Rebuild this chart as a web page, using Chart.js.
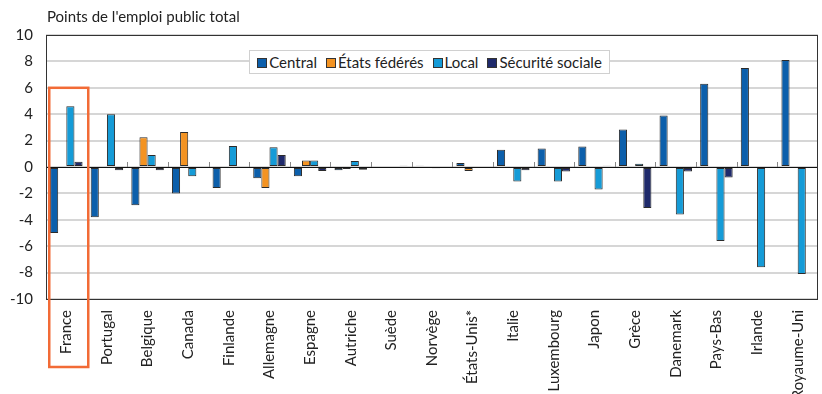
<!DOCTYPE html>
<html lang="fr">
<head>
<meta charset="utf-8">
<script src="https://cdn.jsdelivr.net/npm/chart.js@4.4.1/dist/chart.umd.min.js"></script>
<style>
  html, body { margin: 0; padding: 0; background: #fff; }
  #wrap { position: relative; width: 822px; height: 394px; font-family: Lato, "Open Sans", sans-serif; }
  #title { position: absolute; left: 47px; top: 7px; font-size: 15px; color: #222; white-space: nowrap; }
  #legend {
    position: absolute; left: 249px; top: 50px; width: 361px; height: 24px;
    background: #fff; border: 1px solid #d0d0d0; box-sizing: border-box;
    display: flex; align-items: center; justify-content: center; gap: 9px;
    font-size: 15px; color: #222; white-space: nowrap;
  }
  #legend span.sw { display: inline-block; width: 8px; height: 8px; border: 1px solid #333; margin-right: 2px; vertical-align: 0px; }
</style>
</head>
<body>
<div id="wrap">
  <canvas id="chart" width="822" height="394"></canvas>
  <div id="title">Points de l'emploi public total</div>
  <div id="legend"></div>
</div>
<script>
// DATA
const countries = ["France", "Portugal", "Belgique", "Canada", "Finlande", "Allemagne", "Espagne",
  "Autriche", "Suède", "Norvège", "États-Unis*", "Italie", "Luxembourg", "Japon", "Grèce",
  "Danemark", "Pays-Bas", "Irlande", "Royaume-Uni"];
const central  = [-5.0, -3.8, -2.9, -2.0, -1.6, -0.85, -0.7, -0.25, -0.08, 0.1, 0.3, 1.3, 1.4, 1.55, 2.85, 3.9, 6.3, 7.5, 8.1];
const federes  = [0, 0, 2.25, 2.65, 0, -1.6, 0.5, -0.15, 0, 0, -0.3, 0, 0, 0, 0, 0, 0, 0, 0];
const local    = [4.6, 4.0, 0.9, -0.7, 1.6, 1.5, 0.5, 0.45, -0.08, -0.1, 0, -1.1, -1.1, -1.7, 0.25, -3.6, -5.6, -7.6, -8.1];
const secu     = [0.4, -0.25, -0.25, 0, -0.05, 0.9, -0.3, -0.2, 0.1, 0, 0, -0.25, -0.35, 0.1, -3.1, -0.35, -0.8, 0, 0];
const seriesNames = ["Central", "États fédérés", "Local", "Sécurité sociale"];
const seriesColors = ["#0c5fab", "#f39322", "#159bd7", "#1f2a6b"];
const yTicks = [-10, -8, -6, -4, -2, 0, 2, 4, 6, 8, 10];
const highlightIndex = 0;   // France framed in orange
const highlightTop = 6;

const FONT = "Lato, 'Open Sans', sans-serif";

// Legend (html)
const legendEl = document.getElementById("legend");
seriesNames.forEach((name, i) => {
  const item = document.createElement("div");
  item.innerHTML = `<span class="sw" style="background:${seriesColors[i]}"></span>${name}`;
  legendEl.appendChild(item);
});

// Plugin: plot frame, zero line, category ticks at zero, orange highlight box
const decorations = {
  id: "decorations",
  beforeDatasetsDraw(chart) {
    const { ctx, scales: { x, y } } = chart;
    const y0 = y.getPixelForValue(0);
    ctx.save();
    // small ticks at category boundaries on the zero line
    ctx.strokeStyle = "#888";
    ctx.lineWidth = 1;
    for (let i = 1; i < countries.length; i++) {
      const px = Math.round((x.getPixelForValue(i - 1) + x.getPixelForValue(i)) / 2) + 0.5;
      ctx.beginPath();
      ctx.moveTo(px, y0 - 5);
      ctx.lineTo(px, y0);
      ctx.stroke();
    }
    ctx.restore();
  },
  afterDatasetsDraw(chart) {
    const { ctx, chartArea: a, scales: { x, y } } = chart;
    const y0 = Math.round(y.getPixelForValue(0)) + 0.5;
    ctx.save();
    ctx.strokeStyle = "#111";
    ctx.lineWidth = 1;
    ctx.beginPath();
    ctx.moveTo(a.left, y0);
    ctx.lineTo(a.right, y0);
    ctx.stroke();
    // frame
    ctx.strokeStyle = "#333";
    ctx.strokeRect(Math.round(a.left) + 0.5, Math.round(a.top) + 0.5,
      Math.round(a.right - a.left) - 1, Math.round(a.bottom - a.top));
    // highlight box
    const step = x.getPixelForValue(1) - x.getPixelForValue(0);
    const cx = x.getPixelForValue(highlightIndex);
    ctx.strokeStyle = "#f26b36";
    ctx.lineWidth = 2.5;
    ctx.strokeRect(cx - step * 0.42, y.getPixelForValue(highlightTop), step * 0.96, 367 - y.getPixelForValue(highlightTop));
    ctx.restore();
  }
};

const datasets = [central, federes, local, secu].map((data, i) => ({
  label: seriesNames[i],
  data: data,
  backgroundColor: seriesColors[i],
  borderColor: "#2b2b2b",
  borderWidth: 1,
  borderSkipped: false,
  categoryPercentage: 0.8,
  barPercentage: 1.0
}));

new Chart(document.getElementById("chart"), {
  type: "bar",
  data: { labels: countries, datasets },
  options: {
    responsive: false,
    animation: false,
    layout: { padding: { top: 35, right: 4, left: 0, bottom: 0 } },
    plugins: { legend: { display: false }, tooltip: { enabled: false } },
    scales: {
      x: {
        grid: { display: false },
        border: { display: false },
        afterFit: (s) => { s.height = 95; },
        ticks: {
          autoSkip: false, minRotation: 90, maxRotation: 90, padding: 3,
          color: "#222", font: { family: FONT, size: 15 }
        }
      },
      y: {
        min: -10, max: 10,
        afterFit: (s) => { s.width = 46; },
        afterBuildTicks: (s) => { s.ticks = yTicks.map(v => ({ value: v })); },
        grid: { color: "#d6d6d6", lineWidth: 2, drawTicks: false },
        border: { display: false },
        ticks: {
          padding: 13, color: "#222",
          font: { family: FONT, size: 15 }
        }
      }
    }
  },
  plugins: [decorations]
});
</script>
</body>
</html>
